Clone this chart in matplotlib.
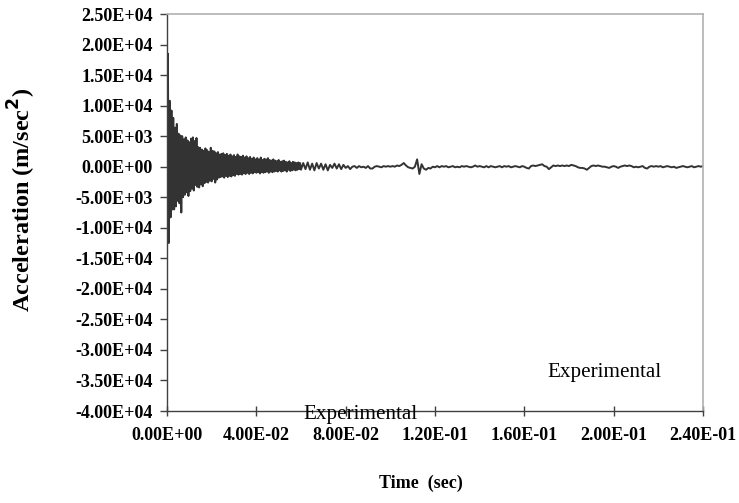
import numpy as np
import matplotlib
matplotlib.use("Agg")
import matplotlib.pyplot as plt
from matplotlib.ticker import FuncFormatter, MultipleLocator

plt.rcParams['font.family'] = ['Liberation Serif', 'DejaVu Serif']

# acceleration in units of 1E+03 m/sec^2
# early part sampled every 0.4 ms (0 - 0.0596 s)
dt_a = 0.0004
acc_a = [
    0.0, 18.5, -12.5, 10.8, -8.3, 9.2, -7.0, 8.0, -7.0, 6.4,
    -6.5, 7.0, -5.6, 5.4, -6.0, 5.1, -7.5, 5.0, -5.0, 4.5,
    -4.6, 4.8, -4.2, 4.3, -4.8, 4.0, -4.0, 4.6, -3.6, 4.8,
    -3.9, 4.2, -3.0, 4.7, -3.3, 3.2, -3.4, 3.1, -2.9, 2.8,
    -3.2, 2.6, -2.7, 3.0, -2.5, 2.7, -2.6, 2.4, -2.3, 3.1,
    -2.4, 2.6, -2.0, 2.5, -2.6, 2.2, -2.1, 2.4, -1.8, 2.0,
    -1.7, 2.1, -1.6, 2.2, -1.8, 1.9, -1.5, 2.1, -1.7, 1.8,
    -1.5, 2.0, -1.6, 1.7, -1.4, 1.9, -1.5, 1.6, -1.2, 2.0,
    -1.3, 1.7, -1.2, 1.6, -1.3, 1.8, -1.1, 1.5, -1.2, 1.7,
    -1.0, 1.4, -1.2, 1.6, -1.0, 1.3, -1.1, 1.5, -0.9, 1.2,
    -1.0, 1.4, -0.9, 1.2, -1.1, 1.5, -0.9, 1.1, -1.0, 1.3,
    -0.9, 1.2, -0.8, 1.4, -1.0, 1.1, -0.8, 1.0, -0.9, 1.2,
    -0.8, 1.0, -0.7, 0.9, -0.8, 1.1, -0.6, 0.8, -0.8, 0.9,
    -0.7, 1.0, -0.6, 0.8, -0.8, 0.7, -0.5, 0.9, -0.7, 0.6,
    -0.6, 0.8, -0.5, 0.7, -0.6, 0.6, -0.5, 0.7, -0.4, 0.6,
]
# later part sampled every 1 ms (0.060 - 0.240 s)
dt_b = 0.001
acc_b = [
    -0.5, 0.6, -0.4, 0.7, -0.5, 0.5, -0.6, 0.6, -0.3, 0.5,
    -0.5, 0.4, -0.6, 0.3, -0.2, 0.5, -0.3, 0.4, -0.4, 0.3,
    -0.2, 0.1, -0.4, 0.0, 0.1, -0.2, 0.1, -0.1, 0.0, -0.2,
    0.1, -0.3, -0.3, 0.0, 0.1, 0.0, -0.1, 0.1, 0.0, 0.1,
    0.0, 0.1, 0.0, 0.2, 0.1, 0.3, 0.6, 0.2, -0.1, -0.2,
    -0.3, 0.0, 1.2, -1.2, 0.4, -0.3, -0.5, -0.2, -0.3, 0.0,
    -0.1, 0.1, -0.1, 0.1, 0.0, 0.1, -0.1, 0.0, 0.1, -0.1,
    0.0, -0.1, 0.1, 0.0, 0.1, 0.0, -0.1, 0.0, 0.2, 0.0,
    0.1, 0.0, -0.1, 0.1, -0.1, 0.1, 0.0, -0.1, 0.0, 0.1,
    -0.1, 0.1, 0.0, 0.1, -0.1, 0.0, 0.1, 0.0, -0.1, 0.1,
    0.0, -0.2, -0.3, 0.1, 0.2, 0.1, 0.2, 0.3, 0.4, 0.1,
    0.0, -0.4, -0.1, 0.2, 0.1, 0.2, 0.1, 0.2, 0.1, 0.2,
    0.1, 0.3, 0.2, 0.1, -0.1, -0.2, -0.2, -0.3, -0.5, -0.2,
    0.1, 0.2, 0.1, 0.2, 0.1, 0.0, 0.0, -0.1, -0.2, 0.0,
    0.1, 0.0, -0.2, 0.0, 0.1, 0.2, 0.1, 0.2, 0.1, -0.1,
    0.0, -0.1, 0.0, 0.1, -0.2, -0.3, 0.0, 0.1, 0.0, 0.1,
    0.0, 0.1, -0.1, 0.0, 0.1, 0.0, -0.1, 0.0, -0.2, -0.1,
    0.0, 0.1, 0.0, -0.1, 0.0, 0.1, -0.1, 0.0, 0.1, 0.0,
    0.1,
]

t_a = np.arange(len(acc_a)) * dt_a
t_b = 0.060 + np.arange(len(acc_b)) * dt_b
t = np.concatenate([t_a, t_b])
acc = np.concatenate([acc_a, acc_b]) * 1000.0

fig = plt.figure(figsize=(7.39, 5.03), dpi=100)
ax = fig.add_axes([167/739, 1 - 411/503, 536/739, 397/503])

ax.plot(t, acc, color='#333333', lw=1.4)

ax.set_xlim(0, 0.24)
ax.set_ylim(-40000, 25000)
ax.xaxis.set_major_locator(MultipleLocator(0.04))
ax.yaxis.set_major_locator(MultipleLocator(5000))
fmt = FuncFormatter(lambda v, p: "{:.2E}".format(0.0 if abs(v) < 1e-12 else v))
ax.xaxis.set_major_formatter(fmt)
ax.yaxis.set_major_formatter(fmt)

for s in ['top', 'right']:
    ax.spines[s].set_color('#b0b0b0')
    ax.spines[s].set_linewidth(1.2)
for s in ['left', 'bottom']:
    ax.spines[s].set_color('#404040')
    ax.spines[s].set_linewidth(1.0)

ax.tick_params(axis='x', direction='inout', length=7, width=1, color='#404040', pad=8)
ax.tick_params(axis='y', direction='out', length=5, width=1, color='#404040', pad=5)
for lab in ax.get_xticklabels() + ax.get_yticklabels():
    lab.set_fontweight('bold')
    lab.set_fontsize(13)

ax.text(0.709, 0.0856, "Experimental", transform=ax.transAxes, fontsize=15.2, va='baseline')
ax.text(0.254, -0.0202, "Experimental", transform=ax.transAxes, fontsize=15.2, va='baseline',
        clip_on=False, zorder=5)

fig.text(421/739, 1 - 483/503, "Time  (sec)", ha='center', va='center', fontsize=13, fontweight='bold')
fig.text(22/739, 1 - 200/503, "Acceleration (m/sec$^\\mathbf{2}$)", rotation=90,
         ha='center', va='center', fontsize=17.5, fontweight='bold')

fig.savefig("out.png", dpi=100)
